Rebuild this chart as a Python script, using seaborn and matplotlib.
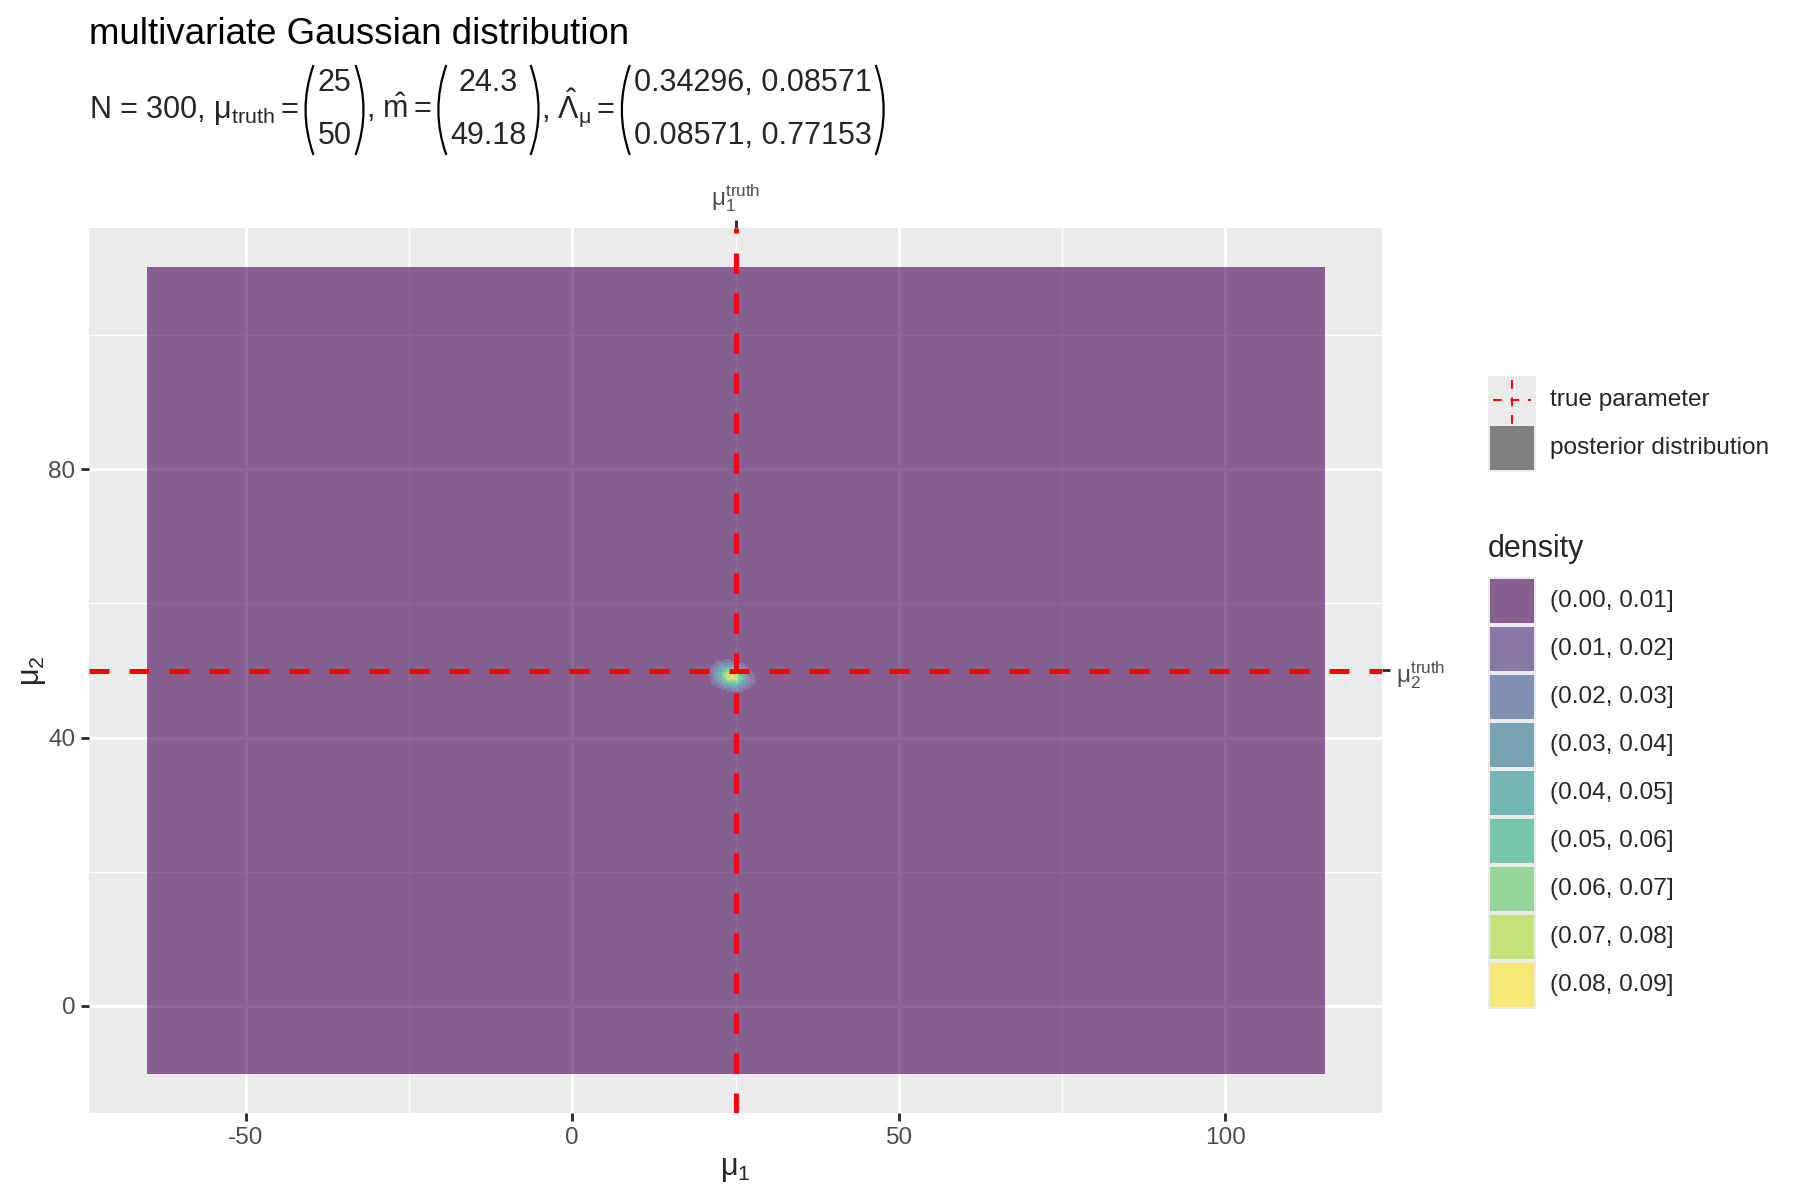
import numpy as np
import seaborn as sns
import matplotlib.pyplot as plt
import matplotlib.transforms as mtransforms
from matplotlib.colors import ListedColormap, BoundaryNorm
from matplotlib.patches import Rectangle, PathPatch
from matplotlib.path import Path
from matplotlib.lines import Line2D
from matplotlib.ticker import MultipleLocator

# values printed in the subtitle
n_obs = 300
mu_truth = [25, 50]
m_hat = [24.3, 49.18]
lambda_mu = [[0.34296, 0.08571],
             [0.08571, 0.77153]]

# grid the posterior is evaluated on
mu1_range = [-65, 115]
mu2_range = [-10, 110]
grid_step = 0.3

density_breaks = [0.00, 0.01, 0.02, 0.03, 0.04, 0.05, 0.06, 0.07, 0.08, 0.09]
density_labels = ['(0.00, 0.01]', '(0.01, 0.02]', '(0.02, 0.03]', '(0.03, 0.04]',
                  '(0.04, 0.05]', '(0.05, 0.06]', '(0.06, 0.07]', '(0.07, 0.08]',
                  '(0.08, 0.09]']
x_ticks = [-50, 0, 50, 100]
y_ticks = [0, 40, 80]

sns.set_theme(style='darkgrid', rc={'axes.facecolor': '#EBEBEB', 'grid.color': 'white'})
plt.rcParams['font.family'] = ['Liberation Sans', 'DejaVu Sans']
plt.rcParams['mathtext.fontset'] = 'custom'
plt.rcParams['mathtext.rm'] = 'Liberation Sans'
plt.rcParams['mathtext.it'] = 'Liberation Sans:italic'
plt.rcParams['mathtext.bf'] = 'Liberation Sans:bold'
plt.rcParams['axes.unicode_minus'] = False

# posterior density of the mean
g1 = np.arange(mu1_range[0], mu1_range[1] + grid_step / 2, grid_step)
g2 = np.arange(mu2_range[0], mu2_range[1] + grid_step / 2, grid_step)
X, Y = np.meshgrid(g1, g2)
L = np.array(lambda_mu)
d = np.stack([X - m_hat[0], Y - m_hat[1]], axis=-1)
q = np.einsum('...i,ij,...j->...', d, L, d)
dens = np.sqrt(np.linalg.det(L)) / (2 * np.pi) * np.exp(-q / 2)

colors = plt.cm.viridis(np.linspace(0, 1, len(density_labels)))
cmap = ListedColormap(colors)
norm = BoundaryNorm(density_breaks, cmap.N)

fig = plt.figure(figsize=(9, 6), dpi=200)
ax = fig.add_axes([89 / 1800, 87 / 1200, 1293 / 1800, 885 / 1200])
ax.set_axisbelow(True)

ax.imshow(dens, origin='lower', cmap=cmap, norm=norm, alpha=0.6,
          interpolation='nearest', aspect='auto', zorder=1,
          extent=(g1[0] - grid_step / 2, g1[-1] + grid_step / 2,
                  g2[0] - grid_step / 2, g2[-1] + grid_step / 2))
ax.axvline(mu_truth[0], color='red', lw=1.8, ls=(0, (4, 4)), zorder=3)
ax.axhline(mu_truth[1], color='red', lw=1.8, ls=(0, (4, 4)), zorder=3)

xspan = mu1_range[1] - mu1_range[0]
yspan = mu2_range[1] - mu2_range[0]
ax.set_xlim(mu1_range[0] - 0.05 * xspan, mu1_range[1] + 0.05 * xspan)
ax.set_ylim(mu2_range[0] - 0.05 * yspan, mu2_range[1] + 0.05 * yspan)
ax.set_xticks(x_ticks)
ax.set_yticks(y_ticks)
ax.xaxis.set_minor_locator(MultipleLocator(25))
ax.yaxis.set_minor_locator(MultipleLocator(20))
ax.grid(which='major', color='white', lw=1.07)
ax.grid(which='minor', color='white', lw=0.53)
ax.tick_params(which='major', length=2.75, width=1.07, color='#333333',
               labelcolor='#4D4D4D', labelsize=8.8, pad=2.2,
               bottom=True, left=True)
ax.tick_params(which='minor', length=0)
for s in ax.spines.values():
    s.set_visible(False)
ax.set_xlabel(r'$\mathrm{\mu}_1$', fontsize=11, labelpad=2)
ax.set_ylabel(r'$\mathrm{\mu}_2$', fontsize=11, labelpad=0)

secx = ax.secondary_xaxis('top')
secx.set_xticks([mu_truth[0]], labels=[r'$\mathrm{\mu}_1^{\mathrm{truth}}$'])
secy = ax.secondary_yaxis('right')
secy.set_yticks([mu_truth[1]], labels=[r'$\mathrm{\mu}_2^{\mathrm{truth}}$'])
for sec in (secx, secy):
    sec.tick_params(length=2.75, width=1.07, color='#333333',
                    labelcolor='#4D4D4D', labelsize=8.8, pad=2.2)
    for s in sec.spines.values():
        s.set_visible(False)

# pixel coordinates on the figure (origin bottom left)
px = mtransforms.Affine2D().scale(1 / 1800, 1 / 1200) + fig.transFigure
renderer = fig.canvas.get_renderer()

fig.text(89, 1156, 'multivariate Gaussian distribution', transform=px,
         fontsize=13.2, va='baseline', color='black')

# subtitle with matrices
sub_size = 11
row_y = [1109, 1056]
text_y = 1082


def put_text(x, s):
    t = fig.text(x, text_y, s, transform=px, fontsize=sub_size, va='baseline')
    return t.get_window_extent(renderer).x1


def paren(x, left):
    top, bot, w = 1135, 1045, 8
    mid = (top + bot) / 2
    if left:
        verts = [(x + w, top), (x - w, mid), (x + w, bot)]
    else:
        verts = [(x, top), (x + 2 * w, mid), (x, bot)]
    p = Path(verts, [Path.MOVETO, Path.CURVE3, Path.CURVE3])
    fig.add_artist(PathPatch(p, transform=px, fill=False, lw=0.8, color='black'))
    return x + w


def put_matrix(x, rows):
    x = paren(x + 7, True) + 4
    texts = [fig.text(0, y, r, transform=px, fontsize=sub_size, va='baseline', ha='center')
             for r, y in zip(rows, row_y)]
    w = max(t.get_window_extent(renderer).width for t in texts)
    for t in texts:
        t.set_x(x + w / 2)
    x = x + w + 4
    return paren(x, False) + 2


x = put_text(89, r'N = 300, $\mathrm{\mu}_{\mathrm{truth}} =$')
x = put_matrix(x, [str(mu_truth[0]), str(mu_truth[1])])
x = put_text(x, r', $\hat{\mathrm{m}} =$')
x = put_matrix(x, [f'{m_hat[0]:g}', f'{m_hat[1]:g}'])
x = put_text(x, r', $\hat{\Lambda}_{\mathrm{\mu}} =$')
put_matrix(x, [f'{lambda_mu[0][0]}, {lambda_mu[0][1]}',
               f'{lambda_mu[1][0]}, {lambda_mu[1][1]}'])

# legends
kx, kw, kh = 1488, 48, 48
tx = 1550
fig.add_artist(Rectangle((kx, 1200 - 472), kw, 2 * kh, transform=px,
                         facecolor='#EBEBEB', edgecolor='none'))
cy = 1200 - 400
fig.add_artist(Line2D([kx + 5, kx + kw - 5], [cy, cy], transform=px, color='red',
                      lw=0.7, ls=(0, (4.5, 4.5))))
fig.add_artist(Line2D([kx + kw / 2, kx + kw / 2], [1200 - 380, 1200 - 424], transform=px,
                      color='red', lw=0.7, ls=(0, (4.5, 4.5))))
fig.text(tx, cy, 'true parameter', transform=px, fontsize=8.8, va='center')
fig.add_artist(Rectangle((kx + 2, 1200 - 470), kw - 4, kh - 4, transform=px,
                         facecolor='#7F7F7F', edgecolor='none'))
fig.text(tx, 1200 - 448, 'posterior distribution', transform=px, fontsize=8.8, va='center')

fig.text(kx, 1200 - 549, 'density', transform=px, fontsize=11, va='center')
top0 = 577
fig.add_artist(Rectangle((kx, 1200 - top0 - kh * len(density_labels)), kw,
                         kh * len(density_labels), transform=px,
                         facecolor='#EBEBEB', edgecolor='none'))
for i, (lab, c) in enumerate(zip(density_labels, colors)):
    ytop = top0 + i * kh
    fig.add_artist(Rectangle((kx + 2, 1200 - ytop - kh + 2), kw - 4, kh - 4, transform=px,
                             facecolor=c, alpha=0.6, edgecolor='none'))
    fig.text(tx, 1200 - ytop - kh / 2, lab, transform=px, fontsize=8.8, va='center')

fig.savefig('out.png', dpi=200, facecolor='white')
